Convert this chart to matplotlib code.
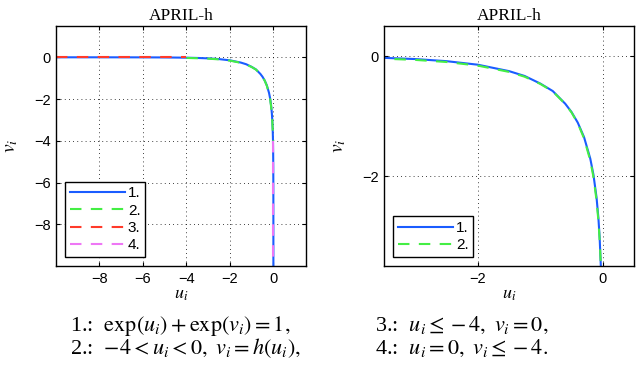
import numpy as np
import matplotlib
matplotlib.use("Agg")
import matplotlib.pyplot as plt

plt.rcParams['mathtext.fontset'] = 'stix'
plt.rcParams['font.family'] = ['Liberation Sans', 'DejaVu Sans']

# 1.: exp(u)+exp(v)=1
u1 = [-10, -8, -6, -5, -4, -3.5, -3, -2.5, -2, -1.5, -1.25, -1, -0.8, -0.6, -0.5,
      -0.4, -0.3, -0.2, -0.15, -0.1, -0.07, -0.05, -0.03, -0.02, -0.01, -0.005,
      -0.002, -0.001, -0.0005, -0.0002, -0.0001, -0.00004]
v1 = [0.0, -0.0003, -0.0025, -0.0068, -0.0185, -0.031, -0.051, -0.086, -0.145,
      -0.252, -0.333, -0.459, -0.584, -0.796, -0.933, -1.110, -1.350, -1.708,
      -1.971, -2.352, -2.694, -3.020, -3.520, -3.922, -4.610, -5.301, -6.215,
      -6.908, -7.601, -8.517, -9.21, -10.13]

# 2.: -4 < u < 0, v = h(u)
u2 = [-4, -3.5, -3, -2.5, -2, -1.5, -1.25, -1, -0.8, -0.6, -0.5, -0.4, -0.3,
      -0.2, -0.15, -0.1, -0.07, -0.05, -0.03, -0.015, 0]
v2 = [-0.03, -0.045, -0.065, -0.10, -0.16, -0.265, -0.345, -0.465, -0.59, -0.80,
      -0.94, -1.12, -1.37, -1.74, -2.01, -2.40, -2.74, -3.06, -3.50, -3.80, -4.0]

# 3.: u <= -4, v = 0
u3 = [-10, -4]
v3 = [0, 0]

# 4.: u = 0, v <= -4
u4 = [0, 0]
v4 = [-4, -10]

c1, c2, c3, c4 = '#1a5cff', '#44ee44', '#ff3a2a', '#ee77f5'
dash = (0, (5.5, 4.5))

fig = plt.figure(figsize=(6.41, 3.73), dpi=100)
ax1 = fig.add_axes([56/641, 1 - 266/373, 250/641, 240/373])
ax2 = fig.add_axes([384/641, 1 - 266/373, 250/641, 240/373])

ax1.plot(u1, v1, color=c1, lw=1.5, label='1.')
ax1.plot(u2, v2, color=c2, lw=1.5, ls=dash, label='2.')
ax1.plot(u3, v3, color=c3, lw=1.5, ls=dash, label='3.')
ax1.plot(u4, v4, color=c4, lw=1.5, ls=dash, label='4.')
ax1.set_xlim(-10, 1.5)
ax1.set_ylim(-10, 1.5)
ax1.set_xticks([-8, -6, -4, -2, 0])
ax1.set_yticks([-8, -6, -4, -2, 0])

ax2.plot(u1, v1, color=c1, lw=1.5, label='1.')
ax2.plot(u2, v2, color=c2, lw=1.5, ls=dash, label='2.')
ax2.set_xlim(-3.5, 0.5)
ax2.set_ylim(-3.5, 0.5)
ax2.set_xticks([-2, 0])
ax2.set_yticks([-2, 0])

for ax in (ax1, ax2):
    ax.set_title('APRIL-h', family='Liberation Serif', fontsize=12.5, pad=4)
    ax.set_xlabel('$u_i$', fontsize=13, labelpad=0)
    ax.set_ylabel('$v_i$', fontsize=14, labelpad=10)
    ax.grid(True, color='black', ls=(0, (1, 4)), lw=0.6)
    ax.tick_params(direction='in', top=True, right=True, labelsize=10.5, length=3, pad=4)
    for s in ax.spines.values():
        s.set_linewidth(1.0)
    leg = ax.legend(loc='lower left', fontsize=11, fancybox=False, edgecolor='black',
                    framealpha=1, handlelength=3.6, borderaxespad=0.6,
                    labelspacing=0.22, handletextpad=0.2, borderpad=0.3)
    leg.get_frame().set_linewidth(1.0)

cap = dict(fontsize=16, family='Liberation Serif', va='baseline')
fig.text(70/641, 1 - 331/373, r'1.:  $\exp(u_i)+\exp(v_i)=1,$', **cap)
fig.text(70/641, 1 - 354/373, r'2.:  $-4<u_i<0,\ v_i=h(u_i),$', **cap)
fig.text(375/641, 1 - 331/373, r'3.:  $u_i\leq -4,\ v_i=0,$', **cap)
fig.text(375/641, 1 - 354/373, r'4.:  $u_i=0,\ v_i\leq -4.$', **cap)

fig.savefig('out.png', dpi=100)
